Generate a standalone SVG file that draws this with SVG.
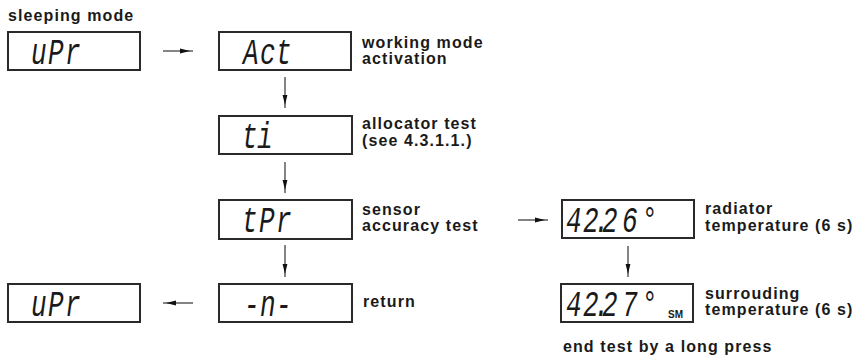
<svg xmlns="http://www.w3.org/2000/svg" width="857" height="359" viewBox="0 0 857 359">
<defs>
<style>
.box{fill:#fff;stroke:#2a2a2a;stroke-width:2}
.lbl{font-family:"Liberation Sans",Arial,sans-serif;font-weight:bold;font-size:16px;letter-spacing:1.1px;fill:#1a1a1a}
.seg{font-family:"Liberation Mono","Courier New",monospace;font-size:26px;font-style:italic;fill:#1a1a1a}
.sm{font-family:"Liberation Sans",Arial,sans-serif;font-size:10px;font-weight:bold;fill:#1a1a1a}
.con{stroke:#333;stroke-width:1.2;fill:none;marker-end:url(#ah)}
</style>
<marker id="ah" viewBox="0 0 16 6" refX="13" refY="3" markerWidth="16" markerHeight="6" markerUnits="userSpaceOnUse" orient="auto">
<path d="M0,0.6 L10,3 L0,5.4 Z" fill="#111"/>
</marker>
</defs>
<rect width="857" height="359" fill="#fff"/>
<text class="lbl" x="8" y="21">sleeping mode</text>
<g id="connectors">
<line class="con" x1="163" y1="51" x2="193" y2="51"/>
<line class="con" x1="285" y1="77" x2="285" y2="108"/>
<line class="con" x1="285" y1="162" x2="285" y2="193"/>
<line class="con" x1="285" y1="245" x2="285" y2="277"/>
<line class="con" x1="193" y1="303" x2="163" y2="303"/>
<line class="con" x1="518" y1="220" x2="548" y2="220"/>
<line class="con" x1="628" y1="246" x2="628" y2="277"/>
</g>
<g id="node-sleep">
<rect class="box" x="8" y="32" width="132" height="38"/>
<text class="seg" transform="translate(0,64) scale(1,1.45)" x="31 48 65" y="0">uPr</text>
</g>
<g id="node-act">
<rect class="box" x="219" y="32" width="132" height="38"/>
<text class="seg" transform="translate(0,64) scale(1,1.45)" x="243 260 276" y="0">Act</text>
<text class="lbl" x="362" y="48">working mode</text>
<text class="lbl" x="362" y="64">activation</text>
</g>
<g id="node-ti">
<rect class="box" x="219" y="116" width="133" height="38"/>
<text class="seg" transform="translate(0,148) scale(1,1.45)" x="242 257" y="0">ti</text>
<text class="lbl" x="362" y="129">allocator test</text>
<text class="lbl" x="362" y="146">(see 4.3.1.1.)</text>
</g>
<g id="node-tpr">
<rect class="box" x="219" y="200" width="133" height="39"/>
<text class="seg" transform="translate(0,232) scale(1,1.45)" x="242 259 276" y="0">tPr</text>
<text class="lbl" x="362" y="215">sensor</text>
<text class="lbl" x="362" y="231">accuracy test</text>
</g>
<g id="node-return">
<rect class="box" x="219" y="284" width="133" height="38"/>
<text class="seg" transform="translate(0,316) scale(1,1.45)" x="244 260 276" y="0">-n-</text>
<text class="lbl" x="363" y="307">return</text>
</g>
<g id="node-sleep2">
<rect class="box" x="8" y="284" width="132" height="38"/>
<text class="seg" transform="translate(0,316) scale(1,1.45)" x="31 48 65" y="0">uPr</text>
</g>
<g id="node-radiator">
<rect class="box" x="562" y="200" width="132" height="38"/>
<text class="seg" transform="translate(0,232) scale(1,1.45)" x="566 583 594 602 622 642" y="0">42.26°</text>
<text class="lbl" x="705" y="214">radiator</text>
<text class="lbl" x="705" y="231">temperature (6 s)</text>
</g>
<g id="node-surround">
<rect class="box" x="561" y="284" width="132" height="38"/>
<text class="seg" transform="translate(0,316) scale(1,1.45)" x="566 583 594 602 622 642" y="0">42.27°</text>
<text class="sm" x="668" y="318">SM</text>
<text class="lbl" x="705" y="299">surrouding</text>
<text class="lbl" x="705" y="315">temperature (6 s)</text>
</g>
<text class="lbl" x="563" y="352">end test by a long press</text>
</svg>
